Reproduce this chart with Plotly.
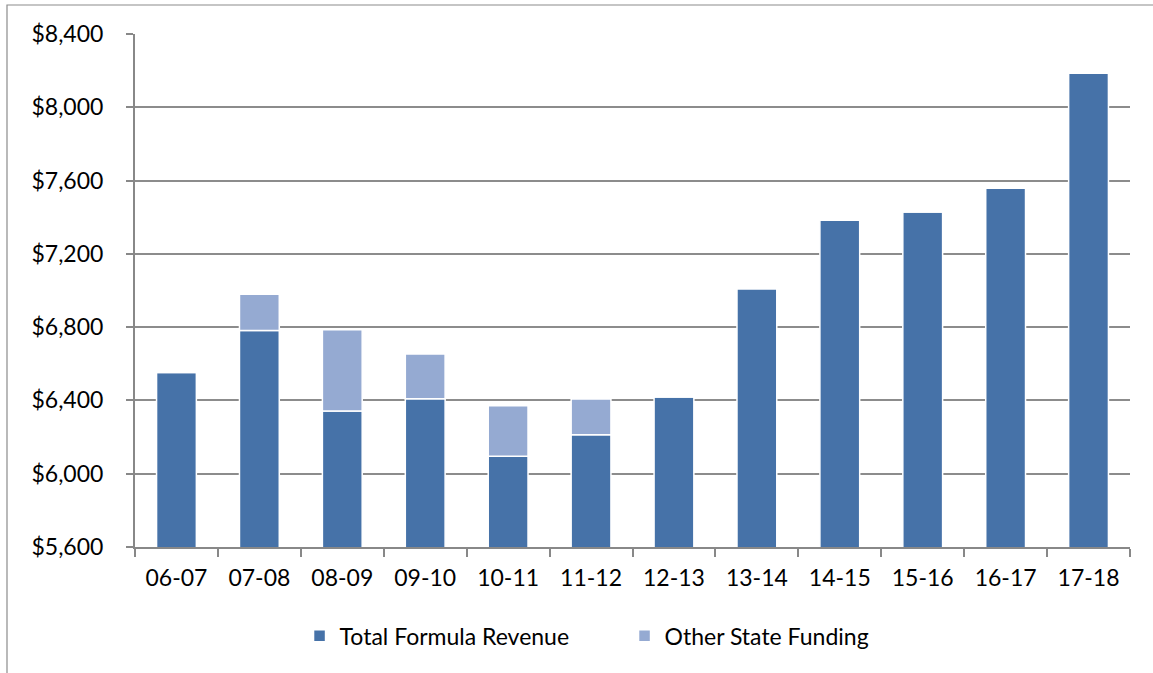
import plotly.graph_objects as go

years = ["06-07", "07-08", "08-09", "09-10", "10-11", "11-12",
         "12-13", "13-14", "14-15", "15-16", "16-17", "17-18"]
total_formula = [6552, 6781, 6342, 6409, 6095, 6213,
                 6419, 7010, 7383, 7428, 7558, 8186]
other_state = [0, 198, 444, 244, 276, 195,
               0, 0, 0, 0, 0, 0]
y_ticks = [5600, 6000, 6400, 6800, 7200, 7600, 8000, 8400]
y_tick_text = ["$5,600", "$6,000", "$6,400", "$6,800", "$7,200", "$7,600", "$8,000", "$8,400"]

FONT = "Lato, 'Open Sans', sans-serif"
DARK = "#4672A8"
LIGHT = "#95AAD2"

fig = go.Figure()
fig.add_trace(go.Bar(
    x=years, y=total_formula, name="Total Formula Revenue",
    marker=dict(color=DARK, line=dict(color="white", width=1.5)),
    base=0,
))
fig.add_trace(go.Bar(
    x=years, y=other_state, name="Other State Funding",
    base=total_formula,
    marker=dict(color=LIGHT, line=dict(color="white", width=1.5)),
))

fig.update_layout(
    barmode="overlay",
    bargap=0.52,
    width=1153, height=673,
    margin=dict(l=135, r=23, t=34, b=126),
    paper_bgcolor="white", plot_bgcolor="white",
    font=dict(family=FONT, size=23, color="#000000"),
    showlegend=True,
    legend=dict(orientation="h", x=0.492, xanchor="center", y=-0.173, yanchor="middle",
                font=dict(size=23), itemwidth=30, traceorder="normal",
                entrywidth=280, bgcolor="rgba(0,0,0,0)"),
    hovermode=False,
)
fig.update_xaxes(
    type="category",
    showline=True, linecolor="#888888", linewidth=2,
    ticks="outside", ticklen=8, tickcolor="#888888", tickwidth=1.5,
    tickson="boundaries",
    showgrid=False,
    tickfont=dict(family=FONT, size=23),
    ticklabelstandoff=9,
)
fig.update_yaxes(
    range=[5600, 8400],
    tickvals=y_ticks, ticktext=y_tick_text,
    showline=True, linecolor="#888888", linewidth=2,
    ticks="outside", ticklen=7, tickcolor="#888888", tickwidth=2,
    showgrid=True, gridcolor="#8C8C8C", gridwidth=2,
    zeroline=False,
    tickfont=dict(family=FONT, size=23),
    ticklabelstandoff=18,
)

# outer chart frame
fig.add_shape(type="rect", xref="paper", yref="paper",
              x0=-128/995, x1=(1170-135)/995, y0=(547-690)/513, y1=(547-5)/513,
              line=dict(color="#8C8C8C", width=1.2), fillcolor="rgba(0,0,0,0)", layer="below")

fig.write_html("out.html", config={"displayModeBar": False},
               post_script="document.body.style.margin='0';")
